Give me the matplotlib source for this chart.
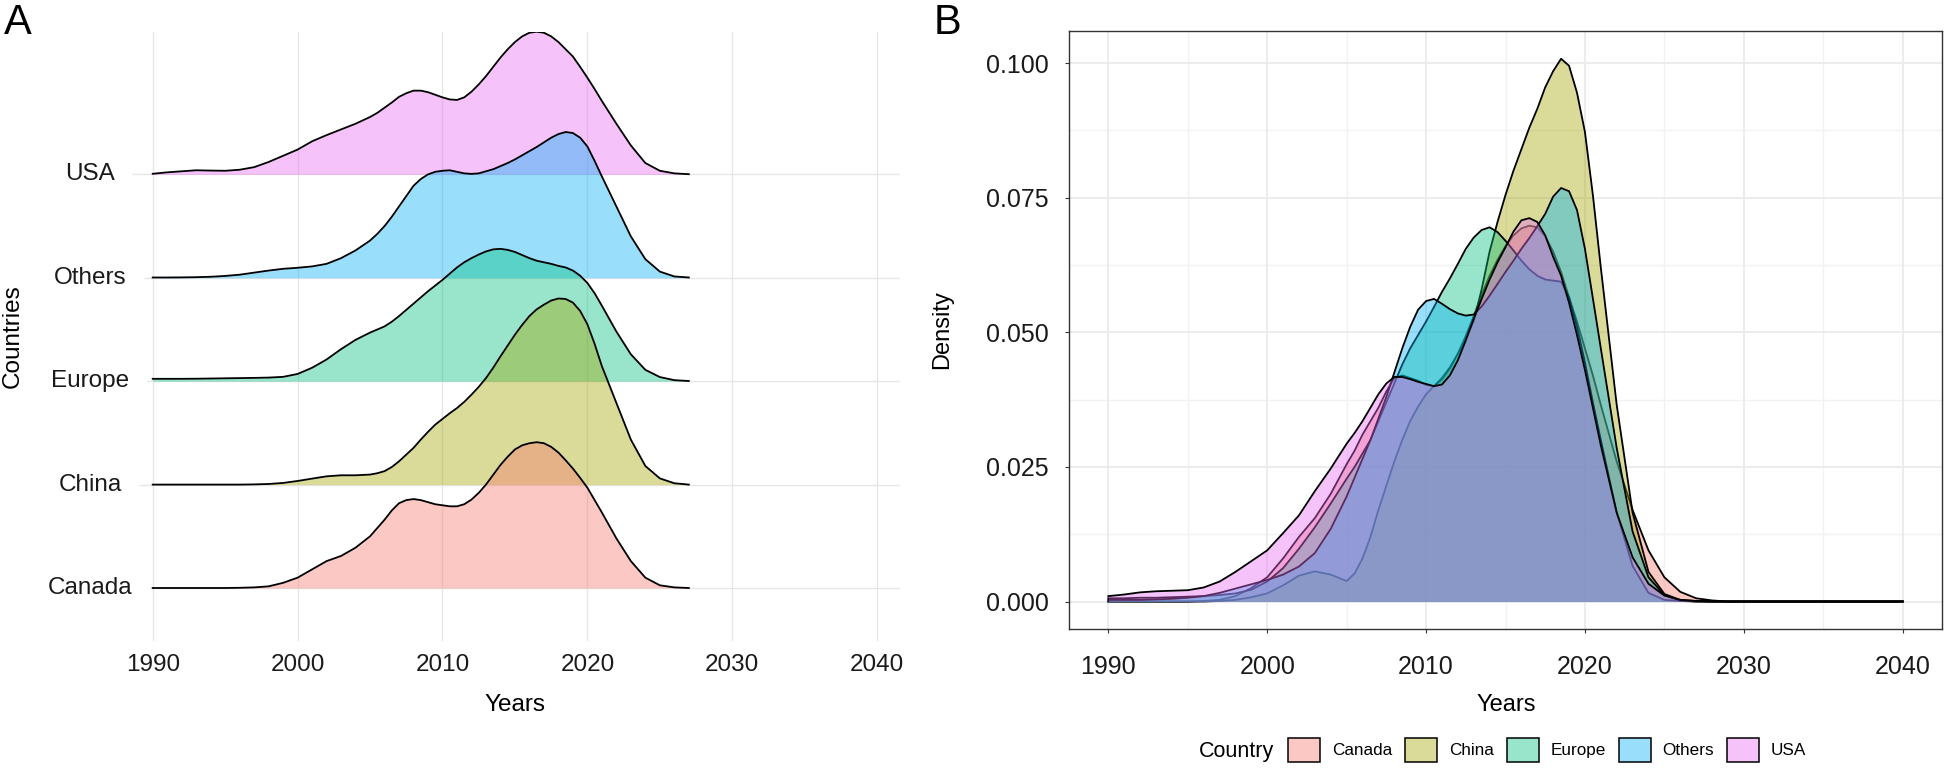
import numpy as np
import matplotlib
matplotlib.use('Agg')
import matplotlib.pyplot as plt
from matplotlib import transforms
from matplotlib.patches import Patch
from matplotlib.colors import to_rgba

plt.rcParams['font.family'] = ['Liberation Sans', 'DejaVu Sans']

W, H = 1944, 770

COUNTRIES = ['Canada', 'China', 'Europe', 'Others', 'USA']
COLORS = ['#F8766D', '#A3A500', '#00BF7D', '#00B0F6', '#E76BF3']
FILL_ALPHA = 0.4

X_TICKS = [1990, 2000, 2010, 2020, 2030, 2040]
Y_TICKS_B = [0.0, 0.025, 0.050, 0.075, 0.100]

# sampling years: whole years in the tails, half years around the peaks
MID_YEARS = [2005.5 + 0.5 * k for k in range(32)]          # 2005.5 ... 2021.0
YEARS_A = list(range(1990, 2006)) + MID_YEARS + list(range(2022, 2028))
YEARS_B = list(range(1990, 2006)) + MID_YEARS + list(range(2022, 2041))

# ---------------- Panel A: ridge heights (in ridge-spacing units) ----------------
CANADA_A = [0, 0, 0, 0, 0, 0, 0.002, 0.006, 0.016, 0.05, 0.10, 0.18, 0.26, 0.31, 0.39, 0.50,
            0.58, 0.66, 0.75, 0.82, 0.85, 0.86, 0.85, 0.83, 0.81, 0.80, 0.79, 0.79, 0.81, 0.855,
            0.92, 1.0, 1.095, 1.19, 1.27, 1.34, 1.38, 1.40, 1.41, 1.40, 1.365, 1.31, 1.235,
            1.155, 1.065, 0.97, 0.85, 0.73,
            0.48, 0.26, 0.10, 0.026, 0.006, 0.0]
CHINA_A = [0, 0, 0, 0, 0, 0, 0, 0.002, 0.006, 0.016, 0.035, 0.058, 0.08, 0.09, 0.09, 0.097,
           0.11, 0.13, 0.17, 0.225, 0.29, 0.355, 0.435, 0.51, 0.58, 0.635, 0.69, 0.74, 0.80, 0.87,
           0.945, 1.03, 1.13, 1.24, 1.345, 1.45, 1.545, 1.63, 1.695, 1.74, 1.78, 1.80, 1.795,
           1.76, 1.68, 1.55, 1.36, 1.145,
           0.79, 0.435, 0.18, 0.06, 0.013, 0.0]
EUROPE_A = [0.023, 0.023, 0.023, 0.024, 0.026, 0.028, 0.03, 0.032, 0.035, 0.042, 0.07, 0.13,
            0.21, 0.31, 0.40, 0.47,
            0.50, 0.53, 0.575, 0.63, 0.69, 0.75, 0.81, 0.87, 0.925, 0.98, 1.04, 1.10, 1.15, 1.19,
            1.225, 1.255, 1.275, 1.28, 1.27, 1.25, 1.22, 1.19, 1.165, 1.15, 1.135, 1.115, 1.10,
            1.07, 1.02, 0.95, 0.85, 0.73,
            0.48, 0.26, 0.11, 0.04, 0.01, 0.002]
OTHERS_A = [0.003, 0.003, 0.004, 0.006, 0.01, 0.018, 0.03, 0.05, 0.07, 0.087, 0.097, 0.11,
            0.135, 0.19, 0.265, 0.36,
            0.425, 0.50, 0.59, 0.69, 0.79, 0.89, 0.955, 1.0, 1.025, 1.035, 1.04, 1.025, 1.01,
            1.005, 1.01, 1.03, 1.05, 1.08, 1.11, 1.145, 1.185, 1.225, 1.265, 1.31, 1.355, 1.39,
            1.41, 1.40, 1.355, 1.27, 1.13, 0.98,
            0.69, 0.40, 0.18, 0.06, 0.013, 0.003]
USA_A = [0.006, 0.02, 0.03, 0.04, 0.037, 0.035, 0.045, 0.07, 0.12, 0.18, 0.24, 0.32, 0.38,
         0.435, 0.49, 0.555,
         0.595, 0.645, 0.695, 0.75, 0.785, 0.81, 0.81, 0.795, 0.77, 0.745, 0.725, 0.72, 0.745,
         0.80, 0.87, 0.95, 1.04, 1.13, 1.21, 1.28, 1.335, 1.37, 1.38, 1.37, 1.335, 1.28, 1.21,
         1.14, 1.04, 0.935, 0.825, 0.71,
         0.49, 0.28, 0.11, 0.035, 0.01, 0.002]

# ---------------- Panel B: densities ----------------
CANADA_B = [0, 0, 0, 0, 0, 0, 0.0001, 0.0003, 0.001, 0.0025, 0.0045, 0.008, 0.012, 0.0155,
            0.020, 0.0255,
            0.028, 0.031, 0.0335, 0.036, 0.039, 0.0415, 0.042, 0.0415, 0.041, 0.0402, 0.040,
            0.0412, 0.0432, 0.046, 0.0493, 0.053, 0.057, 0.0605, 0.0635, 0.066, 0.068, 0.0693,
            0.0698, 0.0695, 0.0678, 0.065, 0.0612, 0.0565, 0.052, 0.047, 0.042, 0.0365,
            0.026, 0.017, 0.0095, 0.0045, 0.0018, 0.0006, 0.0002,
            0, 0, 0, 0, 0, 0, 0, 0, 0, 0, 0, 0]
CHINA_B = [0, 0, 0, 0, 0, 0, 0, 0.0001, 0.0003, 0.0008, 0.0015, 0.003, 0.0048, 0.0056,
           0.005, 0.0038,
           0.0052, 0.008, 0.012, 0.017, 0.0215, 0.026, 0.030, 0.0335, 0.0362, 0.0385, 0.040,
           0.0415, 0.0435, 0.046, 0.0488, 0.052, 0.058, 0.065, 0.0705, 0.0755, 0.080, 0.084,
           0.088, 0.0915, 0.0955, 0.0985, 0.1008, 0.0995, 0.0945, 0.0872, 0.0755, 0.062,
           0.0365, 0.0165, 0.0055, 0.0014, 0.0003, 0.0001,
           0, 0, 0, 0, 0, 0, 0, 0, 0, 0, 0, 0, 0]
EUROPE_B = [0.0006, 0.0006, 0.0007, 0.0007, 0.0008, 0.0009, 0.001, 0.0012, 0.0015, 0.0022,
            0.0037, 0.0062, 0.0098, 0.0138, 0.0182, 0.0228,
            0.025, 0.0275, 0.030, 0.0335, 0.037, 0.0405, 0.044, 0.047, 0.0495, 0.052, 0.0547,
            0.0575, 0.060, 0.0627, 0.0655, 0.0676, 0.069, 0.0695, 0.0686, 0.067, 0.0652, 0.0633,
            0.0617, 0.0605, 0.0598, 0.0596, 0.0594, 0.0565, 0.051, 0.0444, 0.037, 0.030,
            0.0165, 0.0066, 0.0016, 0.0003, 0.0001,
            0, 0, 0, 0, 0, 0, 0, 0, 0, 0, 0, 0, 0, 0]
OTHERS_B = [0.0003, 0.0003, 0.0003, 0.0004, 0.0005, 0.0007, 0.001, 0.0016, 0.0024, 0.0032,
            0.004, 0.005, 0.0065, 0.009, 0.0135, 0.0195,
            0.023, 0.0265, 0.030, 0.034, 0.038, 0.0425, 0.047, 0.051, 0.0542, 0.0558, 0.0562,
            0.0553, 0.0543, 0.0535, 0.0531, 0.0533, 0.0548, 0.0568, 0.059, 0.0612, 0.0633,
            0.0655, 0.0675, 0.0697, 0.072, 0.0752, 0.0768, 0.0762, 0.0727, 0.0655, 0.0563, 0.047,
            0.0285, 0.013, 0.0045, 0.0012, 0.0002,
            0, 0, 0, 0, 0, 0, 0, 0, 0, 0, 0, 0, 0, 0]
USA_B = [0.001, 0.0013, 0.0017, 0.0019, 0.002, 0.0021, 0.0026, 0.0037, 0.0055, 0.0075,
         0.0095, 0.0127, 0.016, 0.0205, 0.0247, 0.0293,
         0.0313, 0.0335, 0.036, 0.0385, 0.0405, 0.0417, 0.0417, 0.0413, 0.0408, 0.0404, 0.040,
         0.0403, 0.042, 0.0448, 0.0485, 0.0525, 0.0562, 0.0598, 0.063, 0.0658, 0.0687, 0.0708,
         0.0712, 0.0705, 0.068, 0.064, 0.0605, 0.0555, 0.0495, 0.043, 0.036, 0.029,
         0.0165, 0.0082, 0.0033, 0.0011, 0.0003, 0.0001,
         0, 0, 0, 0, 0, 0, 0, 0, 0, 0, 0, 0, 0]

RIDGES_A = [CANADA_A, CHINA_A, EUROPE_A, OTHERS_A, USA_A]
DENS_B = [CANADA_B, CHINA_B, EUROPE_B, OTHERS_B, USA_B]


def fx(px):
    return px / W


def fy(py):
    return 1 - py / H


GRID = '#E6E6E6'
LINE_W = 1.3

fig = plt.figure(figsize=(W / 100, H / 100), dpi=100)
fig.patch.set_facecolor('white')

# ================= Panel A =================
A_L, A_R, A_T, A_B = 130, 900, 32, 641
axA = fig.add_axes([fx(A_L), fy(A_B), (A_R - A_L) / W, (A_B - A_T) / H])
px_per_year = (877.2 - 152.7) / 50.0
xa0 = 1990 - (152.7 - A_L) / px_per_year
xa1 = 1990 + (A_R - 152.7) / px_per_year
spacing = 103.4
ya0 = -(A_B - 588.0) / spacing
ya1 = (588.0 - A_T) / spacing
axA.set_xlim(xa0, xa1)
axA.set_ylim(ya0, ya1)
axA.set_autoscale_on(False)
for s in axA.spines.values():
    s.set_visible(False)
axA.set_facecolor('none')
axA.set_yticks([])
axA.set_xticks(X_TICKS)
axA.set_xticklabels([str(t) for t in X_TICKS], fontsize=17.5, color='#1a1a1a')
axA.tick_params(axis='x', length=0, pad=9.5)
for t in X_TICKS:
    axA.axvline(t, color=GRID, lw=1.0, zorder=0.5)

ya = np.array(YEARS_A, dtype=float)
n = len(COUNTRIES)
for i in range(n - 1, -1, -1):
    h = np.array(RIDGES_A[i], dtype=float)
    z = 2 + 2 * (n - 1 - i)
    axA.fill_between(ya, i, i + h, color=COLORS[i], alpha=FILL_ALPHA, lw=0, zorder=z)
    axA.plot(ya, i + h, color='black', lw=LINE_W, zorder=z + 0.5,
             solid_joinstyle='round')

blend = transforms.blended_transform_factory(fig.transFigure, axA.transData)
ylab_texts = []
for i, c in enumerate(COUNTRIES):
    t = axA.text(fx(90), i, c, transform=blend, ha='center', va='center',
                 fontsize=17.5, color='#1a1a1a')
    ylab_texts.append(t)

fig.text(fx(13), fy(336), 'Countries', rotation=90, ha='center', va='center', fontsize=17.5)
fig.text(fx(515), fy(705), 'Years', ha='center', va='center', fontsize=17.5)
fig.text(fx(4), fy(3), 'A', ha='left', va='top', fontsize=30)

# ================= Panel B =================
B_L, B_R, B_T, B_B = 1068.6, 1942.4, 30.5, 628.7
axB = fig.add_axes([fx(B_L), fy(B_B), (B_R - B_L) / W, (B_B - B_T) / H])
axB.set_xlim(1987.5, 2042.5)
axB.set_ylim(-0.00505, 0.10605)
axB.set_autoscale_on(False)
for xv in np.arange(1995, 2040, 10):
    axB.axvline(xv, color='#F2F2F2', lw=1.0, zorder=0.3)
for yv in np.arange(0.0125, 0.1, 0.025):
    axB.axhline(yv, color='#F2F2F2', lw=1.0, zorder=0.3)
for xv in X_TICKS:
    axB.axvline(xv, color='#EBEBEB', lw=1.3, zorder=0.4)
for yv in Y_TICKS_B:
    axB.axhline(yv, color='#EBEBEB', lw=1.3, zorder=0.4)

yb = np.array(YEARS_B, dtype=float)
for i in range(n):
    d = np.array(DENS_B[i], dtype=float)
    z = 2 + 2 * i
    axB.fill_between(yb, 0, d, color=COLORS[i], alpha=FILL_ALPHA, lw=0, zorder=z)
    axB.plot(yb, d, color='black', lw=LINE_W, zorder=z + 0.5, solid_joinstyle='round')

axB.set_xticks(X_TICKS)
axB.set_xticklabels([str(t) for t in X_TICKS], fontsize=18, color='#1a1a1a')
axB.set_yticks(Y_TICKS_B)
axB.set_yticklabels(['%.3f' % v for v in Y_TICKS_B], fontsize=18, color='#1a1a1a')
axB.tick_params(axis='both', length=3, width=0.8, color='#333333')
axB.tick_params(axis='x', pad=16)
axB.tick_params(axis='y', pad=11.5)
for s in axB.spines.values():
    s.set_color('#333333')
    s.set_linewidth(1.0)
    s.set_zorder(30)

fig.text(fx(942), fy(330), 'Density', rotation=90, ha='center', va='center', fontsize=17)
fig.text(fx(1506), fy(705), 'Years', ha='center', va='center', fontsize=17)
fig.text(fx(934), fy(3), 'B', ha='left', va='top', fontsize=30)

# legend
fig.text(fx(1199), fy(751), 'Country', ha='left', va='center', fontsize=15.5)
handles = [Patch(facecolor=to_rgba(c, FILL_ALPHA), edgecolor='black', linewidth=1.1)
           for c in COLORS]
fig.legend(handles, COUNTRIES, loc='center left', bbox_to_anchor=(fx(1288), fy(750)),
           ncol=5, frameon=False, fontsize=12.3, handlelength=1.87, handleheight=1.87,
           handletextpad=0.7, columnspacing=0.75, borderpad=0, borderaxespad=0)

# A horizontal grid lines starting after the labels
fig.canvas.draw()
r = fig.canvas.get_renderer()
for i, t in enumerate(ylab_texts):
    bb = t.get_window_extent(r)
    start_px = bb.x1 + 17.5
    xd = axA.transData.inverted().transform((start_px, 0))[0]
    axA.plot([xd, xa1], [i, i], color=GRID, lw=1.0, zorder=0.5, solid_capstyle='butt')

fig.savefig('out.png', dpi=100, facecolor='white')
